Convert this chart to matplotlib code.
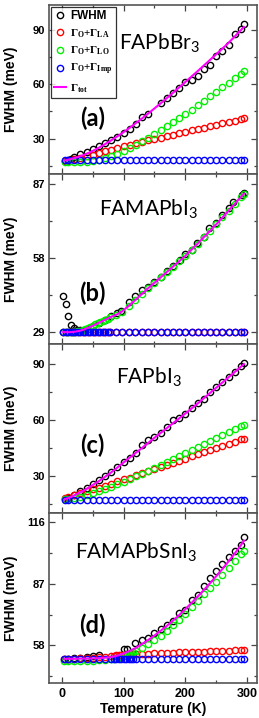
import matplotlib
matplotlib.use('Agg')
import matplotlib.pyplot as plt
from matplotlib.ticker import MultipleLocator

plt.rcParams['mathtext.fontset'] = 'custom'
plt.rcParams['mathtext.rm'] = 'Liberation Serif:bold'
plt.rcParams['mathtext.it'] = 'Liberation Serif:bold'
plt.rcParams['mathtext.bf'] = 'Liberation Serif:bold'
plt.rcParams['mathtext.sf'] = 'Lato'
plt.rcParams['font.family'] = 'Liberation Sans'

# temperature grids (K)
T10 = [5, 10, 20, 30, 40, 50, 60, 70, 80, 90, 100, 110, 120, 130, 140, 150,
       160, 170, 180, 190, 200, 210, 220, 230, 240, 250, 260, 270, 280, 290, 295]

# (a) FAPbBr3
T_a_fwhm = [5, 10, 15, 20, 30, 40, 50, 60, 70, 80, 90, 100, 110, 120, 130, 140,
            160, 170, 180, 190, 200, 210, 220, 230, 240, 250, 260, 270, 280, 290, 295]
fwhm_a = [17.7, 18.0, 18.6, 19.9, 21.3, 22.8, 24.5, 26.0, 27.8, 29.4, 31.0, 33.0, 35.2, 37.9, 42.0, 43.8,
          49.9, 52.3, 55.4, 58.2, 61.3, 62.4, 64.6, 68.3, 70.7, 75.7, 78.4, 81.7, 87.6, 90.4, 93.5]
la_a = [17.6, 17.9, 18.6, 19.4, 20.3, 21.2, 22.1, 23.0, 23.9, 24.8, 25.7, 26.5, 27.4, 28.2, 29.0, 29.8,
        30.6, 31.4, 32.2, 33.0, 33.8, 34.6, 35.3, 36.1, 36.9, 37.7, 38.4, 39.2, 40.0, 40.9, 41.3]
lo_a = [17.0, 17.0, 17.0, 17.1, 17.3, 17.7, 18.3, 19.2, 20.3, 21.6, 23.1, 24.8, 26.6, 28.5, 30.5, 32.5,
        34.7, 36.9, 39.1, 41.4, 43.7, 46.0, 48.4, 50.8, 53.3, 55.8, 58.3, 60.8, 63.3, 65.9, 67.1]
imp_a = [18.0, 18.0, 18.0, 18.0, 18.0, 18.0, 18.0, 18.0, 18.0, 18.0, 18.0, 18.0, 18.0, 18.0, 18.0, 18.0,
         18.0, 18.0, 18.0, 18.0, 18.0, 18.0, 18.0, 18.0, 18.0, 18.0, 18.0, 18.0, 18.0, 18.0, 18.0]
tot_a = [18.0, 18.3, 19.2, 20.3, 21.6, 23.2, 25.0, 27.0, 29.1, 31.3, 33.6, 36.0, 38.6, 41.2, 43.9, 46.7,
         49.5, 52.4, 55.3, 58.3, 61.3, 64.3, 67.3, 70.4, 73.5, 76.6, 79.7, 82.9, 86.4, 89.9, 91.7]

# (b) FAMAPbI3
T_b_fwhm = [2, 6, 10, 14, 19, 24, 30, 40, 50, 60, 70, 80, 90, 95, 108, 119, 130, 140, 150, 160,
            170, 180, 192, 200, 211, 219, 230, 239, 250, 259, 270, 278, 292, 295]
fwhm_b = [43.0, 39.9, 35.3, 31.8, 30.5, 30.0, 29.8, 30.4, 31.4, 32.6, 33.8, 35.2, 36.6, 37.3, 40.9, 43.0,
          45.3, 46.6, 48.5, 50.6, 52.8, 54.7, 57.0, 59.6, 61.2, 63.8, 66.3, 69.6, 71.5, 74.7, 77.6, 79.9,
          82.7, 83.5]
T_b = [2, 6, 10, 14, 18, 22, 26, 30, 34, 38, 42, 46, 50, 54, 58, 62, 66, 70, 74, 78, 88, 97, 108, 119,
       130, 140, 150, 160, 170, 180, 190, 200, 210, 220, 230, 240, 250, 260, 270, 280, 290, 295]
la_b = [29.0, 29.0, 29.0, 29.0, 29.0, 29.0, 29.0, 29.0, 29.0, 29.0, 29.0, 29.0, 29.0, 29.0, 29.0, 29.0,
        29.0, 29.0, 29.0, 29.0, 29.0, 29.0, 29.0, 29.0, 29.0, 29.0, 29.0, 29.0, 29.0, 29.0, 29.0, 29.0,
        29.0, 29.0, 29.0, 29.0, 29.0, 29.0, 29.0, 29.0, 29.0, 29.0]
lo_b = [29.0, 29.0, 29.0, 29.0, 29.1, 29.2, 29.4, 29.6, 29.9, 30.3, 30.7, 31.1, 31.5, 32.0, 32.4, 32.9,
        33.4, 33.8, 34.3, 34.8, 35.8, 37.0, 39.2, 41.6, 44.0, 46.2, 48.3, 50.4, 52.5, 54.6, 56.7, 58.8,
        61.2, 63.6, 66.1, 68.6, 71.1, 73.8, 76.5, 79.1, 81.8, 83.1]
imp_b = [29.0, 29.0, 29.0, 29.0, 29.0, 29.0, 29.0, 29.0, 29.0, 29.0, 29.0, 29.0, 29.0, 29.0, 29.0, 29.0,
         29.0, 29.0, 29.0, 29.0, 29.0, 29.0, 29.0, 29.0, 29.0, 29.0, 29.0, 29.0, 29.0, 29.0, 29.0, 29.0,
         29.0, 29.0, 29.0, 29.0, 29.0, 29.0, 29.0, 29.0, 29.0, 29.0]
tot_b = [29.0, 29.0, 29.0, 29.0, 29.1, 29.2, 29.4, 29.6, 29.9, 30.3, 30.7, 31.1, 31.5, 32.0, 32.4, 32.9,
         33.4, 33.8, 34.3, 34.8, 35.8, 37.0, 39.2, 41.6, 44.0, 46.2, 48.3, 50.4, 52.5, 54.6, 56.7, 58.8,
         61.2, 63.6, 66.1, 68.6, 71.1, 73.8, 76.5, 79.1, 81.8, 83.1]

# (c) FAPbI3
fwhm_c = [17.8, 18.0, 20.1, 21.9, 23.7, 25.9, 27.8, 30.0, 32.2, 35.0, 37.5, 39.9, 42.2, 46.7, 49.4, 51.1,
          52.9, 56.3, 59.9, 61.0, 63.5, 66.7, 69.4, 71.2, 75.2, 77.8, 80.5, 83.2, 85.9, 89.1, 90.6]
la_c = [18.4, 18.9, 19.8, 20.8, 21.8, 22.8, 23.8, 24.9, 26.0, 27.1, 28.2, 29.2, 30.3, 31.4, 32.5, 33.6,
        34.7, 35.9, 37.0, 38.2, 39.4, 40.5, 41.7, 42.8, 44.0, 45.1, 46.2, 47.4, 48.5, 49.6, 50.1]
lo_c = [17.5, 17.6, 18.0, 18.7, 19.6, 20.7, 21.8, 23.0, 24.3, 25.6, 26.9, 28.3, 29.8, 31.3, 32.9, 34.5,
        36.1, 37.7, 39.3, 40.9, 42.5, 44.1, 45.7, 47.3, 48.9, 50.5, 52.1, 53.7, 55.3, 56.9, 57.6]
imp_c = [17.1, 17.1, 17.1, 17.1, 17.1, 17.1, 17.1, 17.1, 17.1, 17.1, 17.1, 17.1, 17.1, 17.1, 17.1, 17.1,
         17.1, 17.1, 17.1, 17.1, 17.1, 17.1, 17.1, 17.1, 17.1, 17.1, 17.1, 17.1, 17.1, 17.1, 17.1]
tot_c = [17.6, 18.2, 19.6, 21.3, 23.1, 25.2, 27.3, 29.6, 32.0, 34.6, 37.3, 39.9, 42.5, 45.1, 47.8, 50.5,
         53.1, 55.7, 58.3, 60.9, 63.5, 66.2, 68.9, 71.7, 74.5, 77.3, 80.1, 82.9, 85.7, 88.6, 90.0]

# (d) FAMAPbSnI3
T_d_fwhm = [5, 10, 20, 30, 40, 50, 60, 100, 105, 118, 130, 140, 150, 160, 170, 180, 190, 200,
            210, 220, 230, 240, 250, 260, 270, 280, 290, 295]
fwhm_d = [51.5, 51.7, 52.0, 52.2, 52.4, 53.0, 53.4, 56.3, 56.4, 59.1, 60.7, 61.5, 63.8, 65.9, 67.7, 69.3,
          73.3, 74.8, 79.5, 81.9, 85.8, 89.8, 92.9, 96.4, 99.5, 102.3, 105.5, 109.0]
T_d = [3, 10, 20, 30, 40, 50, 60, 70, 80, 84, 88, 92, 96, 100, 104, 108, 112, 116, 120, 130, 140,
       150, 160, 170, 180, 190, 200, 210, 220, 230, 240, 250, 260, 270, 280, 290, 295]
la_d = [51.6, 51.7, 51.8, 51.9, 52.0, 52.2, 52.4, 52.7, 53.0, 53.1, 53.3, 53.4, 53.5, 53.6, 53.7, 53.8,
        53.9, 54.0, 54.0, 54.1, 54.2, 54.3, 54.4, 54.5, 54.6, 54.7, 54.8, 54.9, 55.0, 55.1, 55.2, 55.3,
        55.4, 55.6, 55.7, 55.9, 56.0]
lo_d = [50.9, 50.9, 50.9, 50.9, 50.9, 50.9, 51.0, 51.1, 51.4, 51.6, 51.9, 52.2, 52.6, 53.0, 53.4, 53.9,
        54.4, 54.9, 55.4, 56.9, 58.6, 60.4, 62.6, 64.9, 67.4, 70.0, 73.0, 76.0, 79.0, 82.0, 85.0, 88.1,
        91.3, 94.5, 97.6, 100.9, 102.6]
imp_d = [51.5, 51.5, 51.5, 51.5, 51.5, 51.5, 51.5, 51.5, 51.5, 51.5, 51.5, 51.5, 51.5, 51.5, 51.5, 51.5,
         51.5, 51.5, 51.5, 51.5, 51.5, 51.5, 51.5, 51.5, 51.5, 51.5, 51.5, 51.5, 51.5, 51.5, 51.5, 51.5,
         51.5, 51.5, 51.5, 51.5, 51.5]
tot_d = [51.7, 51.7, 51.7, 51.8, 51.8, 51.9, 52.0, 52.2, 52.5, 52.8, 53.1, 53.4, 53.8, 54.2, 54.7, 55.2,
         55.7, 56.3, 56.9, 58.7, 60.6, 62.7, 64.9, 67.2, 69.7, 72.3, 75.1, 78.0, 81.0, 84.1, 87.3, 90.6,
         94.0, 97.6, 101.3, 105.2, 107.4]

panels = [
    dict(name='FAPbBr$_\\mathsf{3}$', tag='(a)', Tf=T_a_fwhm, f=fwhm_a, T=T10, la=la_a, lo=lo_a,
         imp=imp_a, tot=tot_a, ylim=(10.2, 103.8), yt=[30, 60, 90], name_xy=(0.53, 0.78), tag_xy=(0.21, 0.33)),
    dict(name='FAMAPbI$_\\mathsf{3}$', tag='(b)', Tf=T_b_fwhm, f=fwhm_b, T=T_b, la=la_b, lo=lo_b,
         imp=imp_b, tot=tot_b, ylim=(24.4, 90.6), yt=[29, 58, 87], name_xy=(0.48, 0.80), tag_xy=(0.21, 0.30)),
    dict(name='FAPbI$_\\mathsf{3}$', tag='(c)', Tf=T10, f=fwhm_c, T=T10, la=la_c, lo=lo_c,
         imp=imp_c, tot=tot_c, ylim=(10.0, 100.8), yt=[30, 60, 90], name_xy=(0.48, 0.81), tag_xy=(0.21, 0.40)),
    dict(name='FAMAPbSnI$_\\mathsf{3}$', tag='(d)', Tf=T_d_fwhm, f=fwhm_d, T=T_d, la=la_d, lo=lo_d,
         imp=imp_d, tot=tot_d, ylim=(40.4, 120.2), yt=[58, 87, 116], name_xy=(0.42, 0.775), tag_xy=(0.21, 0.34)),
]

fig, axes = plt.subplots(4, 1, figsize=(2.59, 7.18), dpi=100, sharex=True)
fig.subplots_adjust(left=0.189, right=0.992, top=0.993, bottom=0.049, hspace=0)

mk = dict(marker='o', ls='none', mfc='none', ms=4.5, mew=1.0)
for ax, p in zip(axes, panels):
    ax.plot(p['Tf'], p['f'], color='black', zorder=2, label='FWHM', **mk)
    ax.plot(p['T'], p['la'], color='#ff0000', zorder=3, label=r'$\Gamma_{O}$+$\Gamma_{LA}$', **mk)
    ax.plot(p['T'], p['lo'], color='#00f000', zorder=4, label=r'$\Gamma_{O}$+$\Gamma_{LO}$', **mk)
    ax.plot(p['T'], p['imp'], color='#0000ff', zorder=5, label=r'$\Gamma_{O}$+$\Gamma_{Imp}$', **mk)
    ax.plot(p['T'], p['tot'], color='#ff00ff', lw=1.5, zorder=6, label=r'$\Gamma_{tot}$')

    ax.set_xlim(-21, 316)
    ax.set_ylim(*p['ylim'])
    ax.set_yticks(p['yt'])
    ax.yaxis.set_minor_locator(MultipleLocator((p['yt'][1] - p['yt'][0]) / 2))
    ax.xaxis.set_major_locator(MultipleLocator(100))
    ax.xaxis.set_minor_locator(MultipleLocator(50))
    ax.tick_params(which='both', direction='in', top=True, right=True, width=0.9, color='#444444')
    ax.tick_params(which='major', length=4)
    ax.tick_params(which='minor', length=2)
    ax.tick_params(axis='y', labelsize=8, pad=3)
    ax.tick_params(axis='x', labelsize=9, pad=4)
    for lab in ax.get_yticklabels() + ax.get_xticklabels():
        lab.set_fontweight('bold')
    for s in ax.spines.values():
        s.set_color('#555555')
        s.set_linewidth(1.2)

    ax.set_ylabel('FWHM (meV)', fontsize=10, fontweight='bold')
    ax.yaxis.set_label_coords(-0.15, 0.5)
    ax.text(*p['name_xy'], p['name'], transform=ax.transAxes, fontsize=15, family='Lato',
            ha='center', va='center')
    ax.text(*p['tag_xy'], p['tag'], transform=ax.transAxes, fontsize=17, family='Lato',
            fontweight='bold', ha='center', va='center')

leg = axes[0].legend(loc='upper left', bbox_to_anchor=(0.0, 1.0), borderaxespad=0.15,
                     frameon=True, fancybox=False, edgecolor='black',
                     handlelength=1.1, handletextpad=0.35, labelspacing=0.45, borderpad=0.3,
                     prop={'family': 'Liberation Serif', 'weight': 'bold', 'size': 8})
leg.get_frame().set_linewidth(0.9)
leg.get_texts()[0].set_fontfamily('Liberation Sans')
leg.get_texts()[0].set_fontsize(8.5)

axes[-1].set_xlabel('Temperature (K)', fontsize=10, fontweight='bold', labelpad=1)

fig.savefig('out.png', dpi=100)
